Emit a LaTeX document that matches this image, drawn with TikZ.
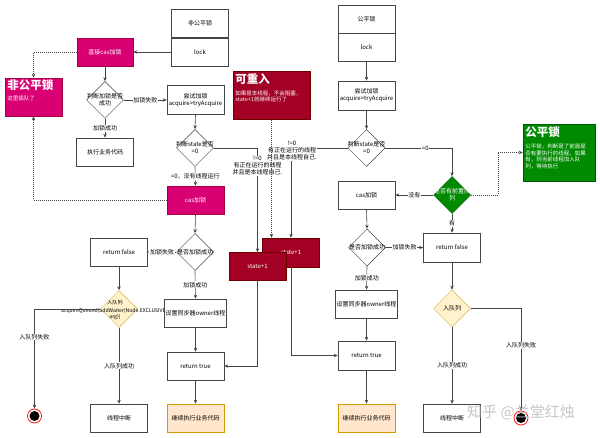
\documentclass[tikz,border=0pt]{standalone}
\usepackage{fontspec}
\setmainfont{Noto Sans CJK SC}
\usetikzlibrary{shapes.geometric,arrows.meta}
\definecolor{ln}{HTML}{444444}
\definecolor{mag}{HTML}{D80073}
\definecolor{magd}{HTML}{A50040}
\definecolor{dred}{HTML}{A20025}
\definecolor{dredd}{HTML}{6F0000}
\definecolor{dgreen}{HTML}{008A00}
\definecolor{dgreend}{HTML}{005700}
\definecolor{ylw}{HTML}{FFF2CC}
\definecolor{ylwd}{HTML}{D6B656}
\definecolor{org}{HTML}{FFE6CC}
\definecolor{orgd}{HTML}{D79B00}
\begin{document}
\begin{tikzpicture}[x=1pt,y=-1pt,
  every node/.style={font=\fontsize{6}{7}\selectfont},
  box/.style={draw=ln, fill=white, line width=0.5pt, minimum width=57pt, minimum height=28pt, inner sep=1pt, align=center},
  magbox/.style={box, draw=magd, fill=mag, text=white},
  redbox/.style={box, draw=dredd, fill=dred, text=white},
  grnbox/.style={box, draw=dgreend, fill=dgreen, text=white},
  orgbox/.style={box, draw=orgd, fill=org},
  dia/.style={draw=ln, fill=white, line width=0.5pt, shape=diamond, minimum width=37pt, minimum height=37pt, inner sep=0pt},
  ydia/.style={dia, draw=ylwd, fill=ylw},
  gdia/.style={dia, draw=dgreend, fill=dgreen},
  dtext/.style={align=center, inner sep=0pt},
  lbl/.style={fill=white, inner sep=0.6pt, align=center},
  arr/.style={draw=ln, line width=0.6pt, -{Stealth[length=4pt,width=3.4pt]}},
  dots/.style={arr, dash pattern=on 1pt off 1pt},
  ttl/.style={anchor=north west, align=left, text=white, inner sep=0pt, font=\fontsize{5.5}{6.7}\selectfont},
  endo/.style={circle, draw=red, line width=0.7pt, fill=white, minimum size=14pt, inner sep=0pt},
  endi/.style={circle, fill=black, minimum size=10pt, inner sep=0pt}
]
\fill[white] (0,0) rectangle (600,438);
\useasboundingbox (0,0) rectangle (600,438);

% ---------- left column (non-fair) ----------
\node[box] (nfA) at (200,23.5) {非公平锁};
\node[box] (nfB) at (200,52) {lock};
\node[magbox, minimum width=56pt] (cas1) at (105,52) {直接cas加锁};
\node[magbox, minimum height=38pt] (nfbig) at (33.5,97) {};
\node[ttl, text width=53pt] (nfbigt) at ([shift={(2.5pt,-2pt)}]nfbig.north west)
  {{\fontsize{11.5}{13}\selectfont\bfseries 非公平锁}\\[4pt]这里插队了};
\node[dia] (d1) at (105,100) {};
\node[dtext] (d1t) at (d1) {判断加锁是否\\成功};
\node[box, minimum height=29pt] (try1) at (195.5,100) {尝试加锁\\acquire>tryAcquire};
\node[box] (exec1) at (105,152) {执行业务代码};
\node[dia] (d2) at (195,148) {};
\node[dtext] (d2t) at (d2) {判断state是否\\=0};
\node[magbox] (cas2) at (195.5,200) {cas加锁};
\node[dia] (d3) at (195,252) {};
\node[dtext] (d3t) at (d3) {是否加锁成功};
\node[box] (rf1) at (119,252) {return false};
\node[ydia] (q1) at (119,309) {};
\node[dtext, font=\fontsize{5.1}{6.2}\selectfont] (q1t) at (115,310) {入队列\\[2pt]acquireQueued(addWaiter(Node.EXCLUSIVE),\\arg))};
\node[box] (own1) at (195.5,313) {设置同步器owner线程};
\node[box] (rt1) at (195.5,366) {return true};
\node[orgbox] (cont1) at (195.5,418) {继续执行业务代码};
\node[box] (int1) at (119,418) {线程中断};
\node[endo] (end1) at (34.5,416) {};
\node[endi] (end1i) at (end1) {};

% ---------- middle ----------
\node[redbox, minimum width=77pt, minimum height=48pt] (reent) at (271.5,95.5) {};
\node[ttl, text width=72pt] (reentt) at ([shift={(2.5pt,-2pt)}]reent.north west)
  {{\fontsize{11.5}{13}\selectfont\bfseries 可重入}\\[5pt]如果是本线程，不会阻塞，\\state+1就继续运行了};
\node[redbox, minimum height=29pt] (sp2) at (291,252.5) {state+1};
\node[redbox] (sp1) at (257.5,266.5) {state+1};

% ---------- right column (fair) ----------
\node[box] (fA) at (366.5,19) {公平锁};
\node[box] (fB) at (366.5,47.5) {lock};
\node[box, minimum height=29pt] (try2) at (366.5,95.5) {尝试加锁\\acquire>tryAcquire};
\node[dia] (d4) at (366.5,148) {};
\node[dtext] (d4t) at (d4) {判断state是否\\=0};
\node[gdia] (gd) at (452,195) {};
\node[dtext, text=white] (gdt) at (gd) {是否有前置队\\列};
\node[grnbox, minimum width=72pt, minimum height=57pt] (fair) at (559,152.5) {};
\node[ttl, text width=68pt] (fairt) at ([shift={(2.5pt,-3pt)}]fair.north west)
  {{\fontsize{11.5}{13}\selectfont\bfseries 公平锁}\\[5pt]公平锁，判断是了前面是\\否有要执行的线程，如果\\有，则当前线程加入队\\列，等待执行};
\node[box] (cas3) at (366.5,195) {cas加锁};
\node[dia] (d5) at (367,247.5) {};
\node[dtext] (d5t) at (d5) {是否加锁成功};
\node[box, minimum height=29pt] (rf2) at (452,247.5) {return false};
\node[box] (own2) at (366.5,304) {设置同步器owner线程};
\node[box, minimum height=29pt] (rt2) at (366.5,355.5) {return true};
\node[orgbox] (cont2) at (366.5,418) {继续执行业务代码};
\node[ydia] (q2) at (452,308.5) {};
\node[dtext] (q2t) at (q2) {入队列};
\node[box] (int2) at (452,418) {线程中断};
\node[endo] (end2) at (521,418) {};
\node[endi] (end2i) at (end2) {};

% ---------- connectors: left ----------
\draw[arr] (nfB.west) -- (cas1.east);
\draw[dots] (cas1.west) -| (nfbig.north);
\draw[arr] (cas1.south) -- (d1.north);
\draw[arr] (d1.east) -- node[lbl]{加锁失败} (try1.west);
\draw[arr] (d1.south) -- node[lbl]{加锁成功} (exec1.north);
\draw[arr] (try1.south) -- (d2.north);
\draw[arr] (d2.south) -- node[lbl]{=0，没有线程运行} (cas2.north);
\draw[dots] (cas2.west) -| (nfbig.south);
\draw[arr] (d2.east) -| (sp1.north);
\node[lbl] (l1) at (257.5,166) {!=0\\有正在运行的线程\\并且是本线程自己.};
\draw[arr] (cas2.south) -- (d3.north);
\draw[arr] (d3.west) -- node[lbl]{加锁失败} (rf1.east);
\draw[arr] (d3.south) -- node[lbl]{加锁成功} (own1.north);
\draw[arr] (own1.south) -- (rt1.north);
\draw[arr] (rt1.south) -- (cont1.north);
\draw[arr] (sp1.south) |- (rt1.east);
\draw[arr] (rf1.south) -- (q1.north);
\draw[arr] (q1.west) -| node[lbl, pos=0.64]{入队列失败} (end1.north);
\draw[arr] (q1.south) -- node[lbl]{入队列成功} (int1.north);

% ---------- connectors: middle ----------
\draw[arr] (d4.west) -| (sp2.north);
\node[lbl] (l2) at (292,151) {!=0\\有正在运行的线程\\并且是本线程自己.};
\draw[dots] (reent.south) -- (reent.south |- sp2.north);
\draw[arr] (sp2.south) |- (rt2.west);

% ---------- connectors: right ----------
\draw[arr] (fB.south) -- (try2.north);
\draw[arr] (try2.south) -- (d4.north);
\draw[arr] (d4.east) -| node[lbl, pos=0.3]{=0} (gd.north);
\coordinate (gx) at (498,195);
\draw[dots] (gd.east) -- (gx) |- (fair.west);
\draw[arr] (gd.west) -- node[lbl]{没有} (cas3.east);
\draw[arr] (gd.south) -- node[lbl]{有} (rf2.north);
\draw[arr] (cas3.south) -- (d5.north);
\draw[arr] (d5.east) -- node[lbl]{加锁失败} (rf2.west);
\draw[arr] (d5.south) -- node[lbl]{加锁成功} (own2.north);
\draw[arr] (own2.south) -- (rt2.north);
\draw[arr] (rt2.south) -- (cont2.north);
\draw[arr] (rf2.south) -- (q2.north);
\draw[arr] (q2.east) -| node[lbl, pos=0.68]{入队列失败} (end2.north);
\draw[arr] (q2.south) -- node[lbl]{入队列成功} (int2.north);

% watermark
\node[text=gray!55, opacity=0.8, font=\fontsize{15}{17}\selectfont] (wm) at (521,412) {知乎 @兰堂红烛};
\end{tikzpicture}
\end{document}
